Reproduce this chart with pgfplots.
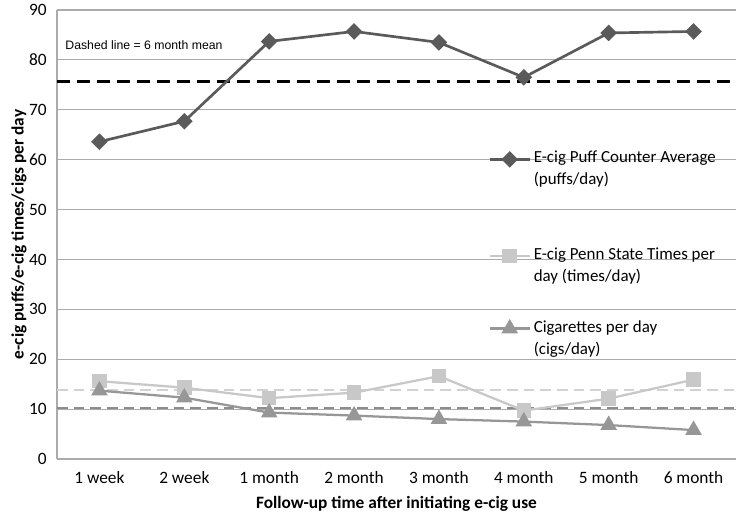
\documentclass[border=0pt]{standalone}
\usepackage{pgfplots}
\pgfplotsset{compat=1.18}
\usepackage{fontspec}
\setmainfont{Carlito}
\newfontfamily\arialfont{Liberation Sans}
\definecolor{puff}{HTML}{5A5A5A}
\definecolor{penn}{HTML}{C8C8C8}
\definecolor{cigs}{HTML}{979797}
\definecolor{pennmean}{HTML}{D2D2D2}
\definecolor{cigsmean}{HTML}{8C8C8C}
\definecolor{gridc}{HTML}{ABABAB}
\begin{document}
\begin{tikzpicture}
\begin{axis}[
  scale only axis,
  width=509.25pt, height=336.75pt,
  xmin=-0.5, xmax=7.5, ymin=0, ymax=90,
  xtick={0,1,2,3,4,5,6,7},
  xticklabels={1 week,2 week,1 month,2 month,3 month,4 month,5 month,6 month},
  ytick={0,10,20,30,40,50,60,70,80,90},
  major tick length=0pt,
  axis x line=bottom, axis y line=left,
  axis line style={draw=gridc, line width=0.8pt, -},
  ymajorgrids, grid style={draw=gridc, line width=0.8pt},
  /pgf/number format/assume math mode=true,
  tick label style={font=\fontsize{13}{15.6}\selectfont},
  xticklabel style={anchor=center, yshift=-14pt},
  yticklabel style={anchor=east, inner sep=0pt, xshift=-7.5pt},
  xlabel={Follow-up time after initiating e-cig use},
  ylabel={e-cig puffs/e-cig times/cigs per day},
  label style={font=\bfseries\fontsize{13}{15.6}\selectfont},
  xlabel style={at={(axis description cs:0.5,0)}, anchor=center, yshift=-33.75pt},
  ylabel style={at={(axis description cs:0,0.5)}, anchor=center, yshift=28.5pt},
  clip=false,
  legend style={draw=none, fill=none, at={(rel axis cs:0.635,0.692)}, anchor=north west,
    row sep=40pt, font=\fontsize{12.7}{16.5}\selectfont, inner sep=0pt,
    cells={anchor=base west}, nodes={xshift=5pt}},
  legend image code/.code={%
    \draw[yshift=0.55ex,mark repeat=2,mark phase=2] plot coordinates {(0pt,0pt) (15pt,0pt) (30pt,0pt)};},
]
% mean lines
\addplot[forget plot, black, line width=2.2pt, dash pattern=on 10pt off 5pt] coordinates {(-0.5,75.7) (7.5,75.7)};
\addplot[forget plot, pennmean, line width=1.6pt, dash pattern=on 8pt off 4.5pt] coordinates {(-0.5,13.8) (7.5,13.8)};
\addplot[forget plot, cigsmean, line width=1.8pt, dash pattern=on 8pt off 4.5pt] coordinates {(-0.5,10.2) (7.5,10.2)};
% series
\addplot[puff, line width=2pt, mark=square*, mark size=3.4pt, mark options={rotate=45, solid}] coordinates {
(0,63.6) (1,67.7) (2,83.7) (3,85.7) (4,83.5) (5,76.5) (6,85.4) (7,85.7)};
\addlegendentry{\parbox[t]{150pt}{E-cig Puff Counter Average\\(puffs/day)}}
\addplot[penn, line width=1.7pt, mark=square*, mark size=4.6pt] coordinates {
(0,15.6) (1,14.3) (2,12.2) (3,13.3) (4,16.6) (5,9.7) (6,12.1) (7,15.9)};
\addlegendentry{\parbox[t]{150pt}{\rule{0pt}{27pt}E-cig Penn State Times per\\day (times/day)}}
\addplot[cigs, line width=1.7pt, mark=triangle*, mark size=5.5pt] coordinates {
(0,13.7) (1,12.3) (2,9.3) (3,8.7) (4,8.0) (5,7.5) (6,6.8) (7,5.8)};
\addlegendentry{\parbox[t]{150pt}{Cigarettes per day\\(cigs/day)}}
\node[anchor=west, inner sep=0pt, font=\arialfont\fontsize{9.2}{11}\selectfont] at (rel axis cs:0.012,0.922) {Dashed line = 6 month mean};
\end{axis}
\useasboundingbox (-42.75pt,-42pt) rectangle (513.75pt,344.25pt);
\end{tikzpicture}
\end{document}
